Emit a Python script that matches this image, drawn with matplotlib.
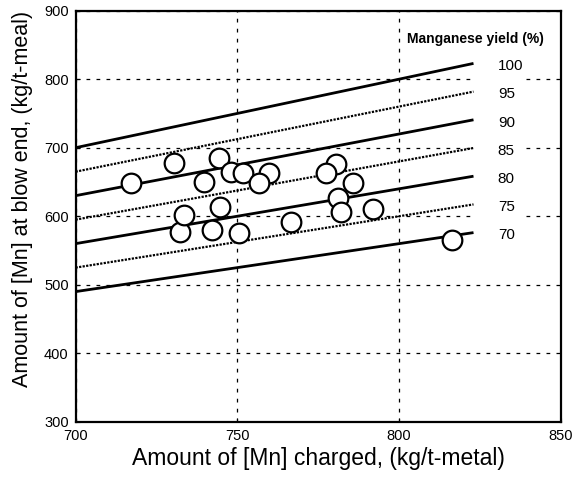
import numpy as np
import matplotlib.pyplot as plt
from matplotlib.patches import Rectangle

plt.rcParams["font.family"] = ["Liberation Sans", "DejaVu Sans"]

# measured points: [Mn] charged vs [Mn] at blow end
mn_charged = [717, 730.4, 744.3, 739.6, 748.1, 751.7, 759.9, 756.8, 780.5, 777.4,
              785.8, 781, 782, 791.8, 766.6, 750.4, 742.1, 732.2, 733.5, 744.5, 816.4]
mn_blow_end = [648, 677, 684.7, 650.5, 665, 662.8, 662.8, 648, 676, 663.7,
               649, 626.3, 606.7, 610, 592, 575, 580, 577.5, 602, 614, 565.4]

# iso-yield lines
yields = [100, 95, 90, 85, 80, 75, 70]
line_x = [700, 823]

fig = plt.figure(figsize=(5.77, 4.84), dpi=100)
ax = fig.add_axes([0.131, 0.1285, 0.841, 0.8495])

for yv in yields:
    xs = np.array(line_x, dtype=float)
    ys = xs * yv / 100.0
    if yv % 10 == 0:
        ax.plot(xs, ys, color="black", lw=2.0, solid_capstyle="butt")
    else:
        ax.plot(xs, ys, color="black", lw=1.6, linestyle=(0, (1, 0.6)))
    ax.text(830.5, line_x[1] * yv / 100.0 - 4, str(yv), fontsize=11,
            ha="left", va="center", zorder=4)

# blank strip behind the yield labels (grid is interrupted there)
ax.add_patch(Rectangle((823.5, 585), 14.5, 240, facecolor="white",
                       edgecolor="none", zorder=1.8))

ax.text(802.5, 858, "Manganese yield (%)", fontsize=10, fontweight="bold",
        ha="left", va="center")

ax.scatter(mn_charged, mn_blow_end, s=200, facecolor="white",
           edgecolor="black", linewidths=1.6, zorder=5)

ax.set_xlim(700, 850)
ax.set_ylim(300, 900)
ax.set_xticks([700, 750, 800, 850])
ax.set_yticks([300, 400, 500, 600, 700, 800, 900])
ax.grid(True, color="black", linestyle=(0, (3, 5)), linewidth=0.9)
ax.tick_params(direction="in", length=3, labelsize=10.5, pad=5)
for sp in ax.spines.values():
    sp.set_linewidth(1.6)

ax.set_xlabel("Amount of [Mn] charged, (kg/t-metal)", fontsize=16.5, labelpad=3)
ax.set_ylabel("Amount of [Mn] at blow end, (kg/t-meal)", fontsize=15.5)
ax.yaxis.set_label_coords(-0.088, 0.542)

fig.savefig("out.png", dpi=100)
